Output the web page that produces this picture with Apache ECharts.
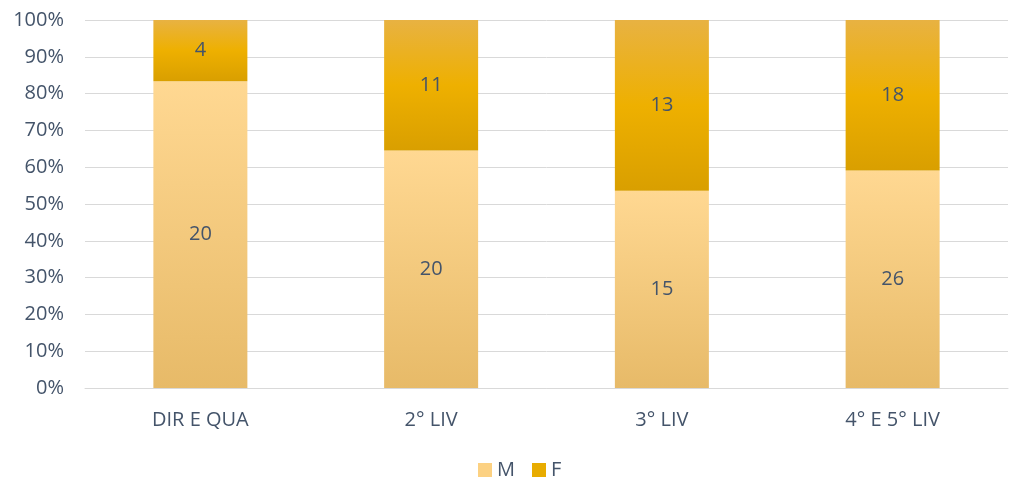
<!DOCTYPE html>
<html>
<head>
<meta charset="utf-8">
<script src="https://cdn.jsdelivr.net/npm/echarts@6/dist/echarts.min.js"></script>
</head>
<body style="margin:0">
<div id="chart" style="width:1020px;height:484px;"></div>
<script>
const categories = ["DIR E QUA", "2° LIV", "3° LIV", "4° E 5° LIV"]
const countM = [20, 20, 15, 26]
const countF = [4, 11, 13, 18]

const totals = countM.map((m, i) => m + countF[i])
const pctM = countM.map((m, i) => m / totals[i] * 100)
const pctF = countF.map((f, i) => f / totals[i] * 100)

const textColor = "#44546A"
const font = "'Open Sans', 'Liberation Sans', sans-serif"

let myChart = echarts.init(document.getElementById("chart"))

function grad(stops){
    return new echarts.graphic.LinearGradient(0, 0, 0, 1, stops)
}

let option = {
    animation: false,
    textStyle: { fontFamily: font },
    grid: { left: 85, right: 12, top: 20, bottom: 96 },
    legend: {
        bottom: -1,
        left: 473,
        itemWidth: 14,
        itemHeight: 14,
        itemGap: 17,
        icon: "rect",
        textStyle: { color: textColor, fontSize: 20, fontFamily: font },
        data: [
            { name: "M", itemStyle: { color: "#FCD182" } },
            { name: "F", itemStyle: { color: "#E8AC00" } }
        ]
    },
    xAxis: {
        type: "category",
        data: categories,
        axisTick: { show: false },
        axisLine: { lineStyle: { color: "#D9D9D9", width: 1 } },
        axisLabel: { color: textColor, fontSize: 20, margin: 22, fontFamily: font }
    },
    yAxis: {
        type: "value",
        min: 0,
        max: 100,
        interval: 10,
        axisLabel: { color: textColor, fontSize: 20, formatter: "{value}%", margin: 21, fontFamily: font },
        splitLine: { lineStyle: { color: "#D9D9D9", width: 1 } },
        axisLine: { show: false },
        axisTick: { show: false }
    },
    series: [
        {
            name: "M",
            type: "bar",
            stack: "total",
            barWidth: 94,
            data: pctM,
            itemStyle: {
                color: grad([
                    { offset: 0, color: "#FFD892" },
                    { offset: 1, color: "#E7BA68" }
                ])
            },
            label: {
                show: true,
                position: "inside",
                color: textColor,
                fontSize: 20,
                fontFamily: font,
                formatter: p => countM[p.dataIndex]
            }
        },
        {
            name: "F",
            type: "bar",
            stack: "total",
            barWidth: 94,
            data: pctF,
            itemStyle: {
                color: grad([
                    { offset: 0, color: "#E8B242" },
                    { offset: 0.5, color: "#EEB000" },
                    { offset: 1, color: "#D99F00" }
                ])
            },
            label: {
                show: true,
                position: "inside",
                color: textColor,
                fontSize: 20,
                fontFamily: font,
                formatter: p => countF[p.dataIndex]
            }
        }
    ]
}
myChart.setOption(option)
</script>
</body>
</html>
